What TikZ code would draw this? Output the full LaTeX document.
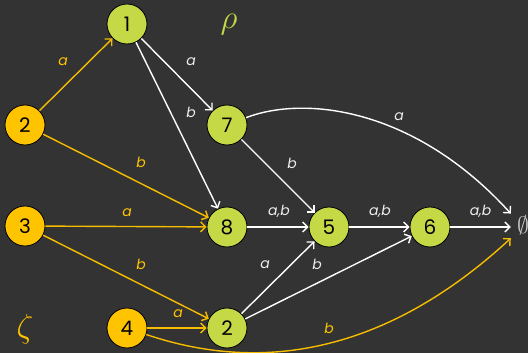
\documentclass[tikz,border=0pt]{standalone}
\usepackage{fontspec}
\setmainfont{Poppins}
\usetikzlibrary{arrows.meta}
\definecolor{bg}{HTML}{333333}
\definecolor{lime}{HTML}{C5D846}
\definecolor{amber}{HTML}{FFC400}
\definecolor{amberline}{HTML}{F5BC00}
\definecolor{pale}{HTML}{EDEDED}
\definecolor{nullgray}{HTML}{C8C8C8}
\begin{document}
\begin{tikzpicture}[x=1pt,y=-1pt,
  state/.style={circle, draw=black, line width=0.8pt, minimum size=40pt,
    inner sep=0pt, text=black, font=\fontsize{20}{24}\selectfont},
  gstate/.style={state, fill=lime},
  ostate/.style={state, fill=amber},
  tip/.style={-{Straight Barb[length=5pt,width=10pt]}},
  wedge/.style={tip, draw=white, line width=1.4pt},
  oedge/.style={tip, draw=amberline, line width=1.4pt},
  wlab/.style={text=pale, font=\fontsize{14}{16}\selectfont\itshape},
  olab/.style={text=amber, font=\fontsize{14}{16}\selectfont\itshape},
  greek/.style={font=\fontsize{20}{24}\selectfont, scale=1.6}
]
\fill[bg] (0,0) rectangle (528,353);
\useasboundingbox (0,0) rectangle (528,353);

% states
\node[gstate] (n1) at (127,24)  {1};
\node[ostate] (o2) at (25,125)  {2};
\node[gstate] (n7) at (227,125) {7};
\node[ostate] (o3) at (25,226)  {3};
\node[gstate] (n8) at (227,227) {8};
\node[gstate] (n5) at (329,227) {5};
\node[gstate] (n6) at (430,227) {6};
\node[ostate] (o4) at (127,328) {4};
\node[gstate] (n2) at (227,328) {2};
% the empty set: a tall box so that arrows meet its left side
\node[minimum width=24pt, minimum height=36pt, inner sep=0pt] (empty) at (523,227) {};
\node[text=nullgray, font=\fontsize{20}{24}\selectfont, scale=1.15, inner sep=0pt]
  (emptyglyph) at (523,225) {$\emptyset$};

% set names
\node[greek, text=lime]  (rho)  at (229,25)  {$\rho$};
\node[greek, text=amber] (zeta) at (25,329)  {$\zeta$};

% transitions of the orange automaton
\draw[oedge] (o2) -- node[olab, xshift=-13pt, yshift=12.5pt] {a} (n1);
\draw[oedge] (o2) -- node[olab, xshift=15pt, yshift=14pt] {b} (n8);
\draw[oedge] (o3) -- node[olab, xshift=1pt, yshift=13.5pt] {a} (n8);
\draw[oedge] (o3) -- node[olab, xshift=15pt, yshift=13pt] {b} (n2);
\draw[oedge] (o4) -- node[olab, xshift=1pt, yshift=14pt] {a} (n2);
\draw[oedge] (o4) .. controls (257,372) and (382,357) ..
  node[olab, pos=0.52, yshift=15pt] {b} (empty);

% transitions of the green automaton
\draw[wedge] (n1) -- node[wlab, xshift=14pt, yshift=12.5pt] {a} (n7);
\draw[wedge] (n1) -- node[wlab, xshift=14pt, yshift=13.5pt] {b} (n8);
\draw[wedge] (n7) -- node[wlab, xshift=14pt, yshift=13pt] {b} (n5);
\draw[wedge] (n7) .. controls (305,95) and (415,108) ..
  node[wlab, pos=0.62, yshift=14pt] {a} (empty);
\draw[wedge] (n8) -- node[wlab, xshift=1pt, yshift=16pt] {a,b} (n5);
\draw[wedge] (n5) -- node[wlab, xshift=0.5pt, yshift=16pt] {a,b} (n6);
\draw[wedge] (n6) -- node[wlab, xshift=0pt, yshift=16pt] {a,b} (empty);
\draw[wedge] (n2) -- node[wlab, xshift=-13pt, yshift=12.5pt] {a} (n5);
\draw[wedge] (n2) -- node[wlab, xshift=-11.5pt, yshift=13.5pt] {b} (n6);
\end{tikzpicture}
\end{document}
